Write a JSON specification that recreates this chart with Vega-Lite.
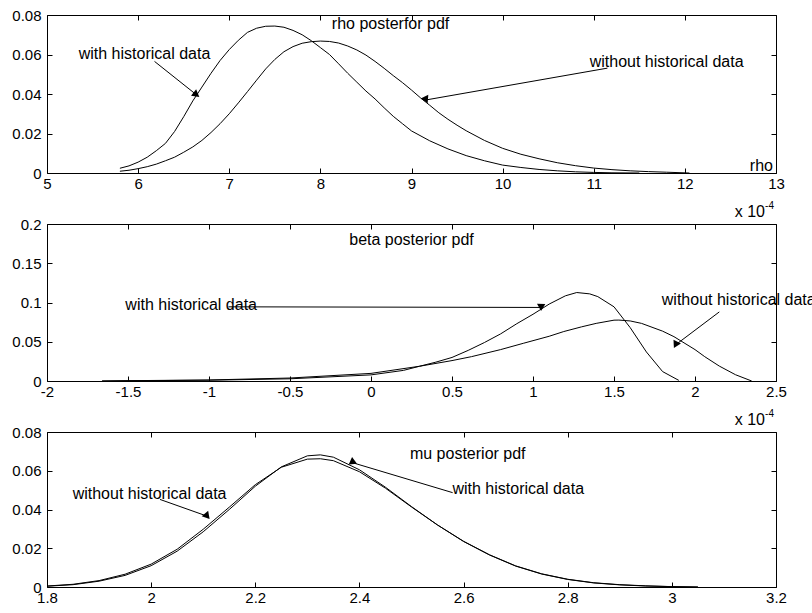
{
  "$schema": "https://vega.github.io/schema/vega-lite/v6.json",
  "padding": {"left": 11, "top": 8, "right": 0, "bottom": 0},
  "background": "white",
  "spacing": 51,
  "bounds": "flush",
  "datasets": {
    "rho": [
      {"x":5.8,"y":0.0024,"series":"with"},{"x":5.9,"y":0.0036,"series":"with"},{"x":6.0,"y":0.0055,"series":"with"},{"x":6.1,"y":0.008,"series":"with"},{"x":6.2,"y":0.0113,"series":"with"},{"x":6.3,"y":0.015,"series":"with"},{"x":6.4,"y":0.021,"series":"with"},{"x":6.5,"y":0.0285,"series":"with"},{"x":6.6,"y":0.0365,"series":"with"},{"x":6.7,"y":0.0435,"series":"with"},{"x":6.8,"y":0.0505,"series":"with"},{"x":6.9,"y":0.057,"series":"with"},{"x":7.0,"y":0.0625,"series":"with"},{"x":7.1,"y":0.0672,"series":"with"},{"x":7.2,"y":0.0712,"series":"with"},{"x":7.3,"y":0.0733,"series":"with"},{"x":7.4,"y":0.0743,"series":"with"},{"x":7.5,"y":0.0744,"series":"with"},{"x":7.6,"y":0.0738,"series":"with"},{"x":7.7,"y":0.0722,"series":"with"},{"x":7.8,"y":0.07,"series":"with"},{"x":7.9,"y":0.067,"series":"with"},{"x":8.0,"y":0.0635,"series":"with"},{"x":8.1,"y":0.06,"series":"with"},{"x":8.2,"y":0.0553,"series":"with"},{"x":8.3,"y":0.0505,"series":"with"},{"x":8.4,"y":0.046,"series":"with"},{"x":8.5,"y":0.0415,"series":"with"},{"x":8.6,"y":0.0375,"series":"with"},{"x":8.7,"y":0.033,"series":"with"},{"x":8.8,"y":0.0287,"series":"with"},{"x":8.9,"y":0.025,"series":"with"},{"x":9.0,"y":0.0213,"series":"with"},{"x":9.2,"y":0.0163,"series":"with"},{"x":9.4,"y":0.0122,"series":"with"},{"x":9.6,"y":0.0088,"series":"with"},{"x":9.8,"y":0.0062,"series":"with"},{"x":10.0,"y":0.004,"series":"with"},{"x":10.2,"y":0.0028,"series":"with"},{"x":10.4,"y":0.0018,"series":"with"},{"x":10.6,"y":0.0011,"series":"with"},{"x":10.8,"y":0.0006,"series":"with"},{"x":11.0,"y":0.0003,"series":"with"},{"x":11.2,"y":0.0001,"series":"with"},{"x":11.5,"y":0.0,"series":"with"},
      {"x":5.8,"y":0.0009,"series":"without"},{"x":5.9,"y":0.0014,"series":"without"},{"x":6.0,"y":0.0022,"series":"without"},{"x":6.1,"y":0.0032,"series":"without"},{"x":6.2,"y":0.0045,"series":"without"},{"x":6.3,"y":0.0062,"series":"without"},{"x":6.4,"y":0.008,"series":"without"},{"x":6.5,"y":0.0105,"series":"without"},{"x":6.6,"y":0.0132,"series":"without"},{"x":6.7,"y":0.0165,"series":"without"},{"x":6.8,"y":0.0205,"series":"without"},{"x":6.9,"y":0.025,"series":"without"},{"x":7.0,"y":0.03,"series":"without"},{"x":7.1,"y":0.0355,"series":"without"},{"x":7.2,"y":0.0412,"series":"without"},{"x":7.3,"y":0.047,"series":"without"},{"x":7.4,"y":0.0527,"series":"without"},{"x":7.5,"y":0.0575,"series":"without"},{"x":7.6,"y":0.0614,"series":"without"},{"x":7.7,"y":0.064,"series":"without"},{"x":7.8,"y":0.0657,"series":"without"},{"x":7.9,"y":0.0665,"series":"without"},{"x":8.0,"y":0.0668,"series":"without"},{"x":8.1,"y":0.0666,"series":"without"},{"x":8.2,"y":0.0658,"series":"without"},{"x":8.3,"y":0.0643,"series":"without"},{"x":8.4,"y":0.0623,"series":"without"},{"x":8.5,"y":0.0597,"series":"without"},{"x":8.6,"y":0.0565,"series":"without"},{"x":8.7,"y":0.053,"series":"without"},{"x":8.8,"y":0.0493,"series":"without"},{"x":8.9,"y":0.0458,"series":"without"},{"x":9.0,"y":0.042,"series":"without"},{"x":9.1,"y":0.038,"series":"without"},{"x":9.2,"y":0.0343,"series":"without"},{"x":9.3,"y":0.0305,"series":"without"},{"x":9.4,"y":0.0272,"series":"without"},{"x":9.5,"y":0.0242,"series":"without"},{"x":9.6,"y":0.0214,"series":"without"},{"x":9.8,"y":0.0165,"series":"without"},{"x":10.0,"y":0.0125,"series":"without"},{"x":10.2,"y":0.0095,"series":"without"},{"x":10.4,"y":0.0072,"series":"without"},{"x":10.6,"y":0.0052,"series":"without"},{"x":10.8,"y":0.0037,"series":"without"},{"x":11.0,"y":0.0025,"series":"without"},{"x":11.2,"y":0.0017,"series":"without"},{"x":11.4,"y":0.0011,"series":"without"},{"x":11.6,"y":0.0007,"series":"without"},{"x":11.8,"y":0.0004,"series":"without"},{"x":12.05,"y":0.0,"series":"without"}
    ],
    "beta": [
      {"x":-1.66,"y":0.0,"series":"with"},{"x":-1.5,"y":0.0003,"series":"with"},{"x":-1.0,"y":0.001,"series":"with"},{"x":-0.5,"y":0.0028,"series":"with"},{"x":0.0,"y":0.0078,"series":"with"},{"x":0.2,"y":0.0135,"series":"with"},{"x":0.3,"y":0.0188,"series":"with"},{"x":0.4,"y":0.024,"series":"with"},{"x":0.5,"y":0.03,"series":"with"},{"x":0.6,"y":0.039,"series":"with"},{"x":0.7,"y":0.049,"series":"with"},{"x":0.8,"y":0.06,"series":"with"},{"x":0.9,"y":0.073,"series":"with"},{"x":1.0,"y":0.085,"series":"with"},{"x":1.1,"y":0.098,"series":"with"},{"x":1.2,"y":0.1085,"series":"with"},{"x":1.27,"y":0.1127,"series":"with"},{"x":1.35,"y":0.111,"series":"with"},{"x":1.4,"y":0.1075,"series":"with"},{"x":1.5,"y":0.0945,"series":"with"},{"x":1.6,"y":0.068,"series":"with"},{"x":1.7,"y":0.037,"series":"with"},{"x":1.8,"y":0.012,"series":"with"},{"x":1.9,"y":0.0008,"series":"with"},
      {"x":-1.66,"y":0.0,"series":"without"},{"x":-1.5,"y":0.0004,"series":"without"},{"x":-1.0,"y":0.0013,"series":"without"},{"x":-0.5,"y":0.0038,"series":"without"},{"x":0.0,"y":0.0097,"series":"without"},{"x":0.3,"y":0.0188,"series":"without"},{"x":0.5,"y":0.026,"series":"without"},{"x":0.62,"y":0.031,"series":"without"},{"x":0.8,"y":0.04,"series":"without"},{"x":0.94,"y":0.048,"series":"without"},{"x":1.1,"y":0.057,"series":"without"},{"x":1.19,"y":0.063,"series":"without"},{"x":1.3,"y":0.069,"series":"without"},{"x":1.39,"y":0.0734,"series":"without"},{"x":1.5,"y":0.0775,"series":"without"},{"x":1.53,"y":0.0776,"series":"without"},{"x":1.6,"y":0.0765,"series":"without"},{"x":1.67,"y":0.0734,"series":"without"},{"x":1.8,"y":0.0635,"series":"without"},{"x":1.87,"y":0.0565,"series":"without"},{"x":2.0,"y":0.04,"series":"without"},{"x":2.06,"y":0.031,"series":"without"},{"x":2.15,"y":0.019,"series":"without"},{"x":2.25,"y":0.008,"series":"without"},{"x":2.35,"y":0.0,"series":"without"}
    ],
    "mu": [
      {"x":1.8,"y":0.0004,"series":"with"},{"x":1.85,"y":0.0012,"series":"with"},{"x":1.9,"y":0.003,"series":"with"},{"x":1.95,"y":0.006,"series":"with"},{"x":2.0,"y":0.011,"series":"with"},{"x":2.05,"y":0.0185,"series":"with"},{"x":2.1,"y":0.0285,"series":"with"},{"x":2.15,"y":0.04,"series":"with"},{"x":2.2,"y":0.052,"series":"with"},{"x":2.25,"y":0.062,"series":"with"},{"x":2.3,"y":0.0677,"series":"with"},{"x":2.325,"y":0.0682,"series":"with"},{"x":2.35,"y":0.067,"series":"with"},{"x":2.4,"y":0.0605,"series":"with"},{"x":2.45,"y":0.0515,"series":"with"},{"x":2.5,"y":0.0415,"series":"with"},{"x":2.55,"y":0.032,"series":"with"},{"x":2.6,"y":0.0235,"series":"with"},{"x":2.65,"y":0.0165,"series":"with"},{"x":2.7,"y":0.0108,"series":"with"},{"x":2.75,"y":0.0067,"series":"with"},{"x":2.8,"y":0.0039,"series":"with"},{"x":2.85,"y":0.0021,"series":"with"},{"x":2.9,"y":0.0011,"series":"with"},{"x":2.95,"y":0.0005,"series":"with"},{"x":3.0,"y":0.0002,"series":"with"},{"x":3.05,"y":0.0,"series":"with"},
      {"x":1.8,"y":0.0005,"series":"without"},{"x":1.85,"y":0.0014,"series":"without"},{"x":1.9,"y":0.0033,"series":"without"},{"x":1.95,"y":0.0066,"series":"without"},{"x":2.0,"y":0.0118,"series":"without"},{"x":2.05,"y":0.0195,"series":"without"},{"x":2.1,"y":0.0298,"series":"without"},{"x":2.15,"y":0.0412,"series":"without"},{"x":2.2,"y":0.0528,"series":"without"},{"x":2.25,"y":0.0618,"series":"without"},{"x":2.3,"y":0.066,"series":"without"},{"x":2.325,"y":0.0662,"series":"without"},{"x":2.35,"y":0.0652,"series":"without"},{"x":2.4,"y":0.0595,"series":"without"},{"x":2.45,"y":0.051,"series":"without"},{"x":2.5,"y":0.0413,"series":"without"},{"x":2.55,"y":0.032,"series":"without"},{"x":2.6,"y":0.0236,"series":"without"},{"x":2.65,"y":0.0166,"series":"without"},{"x":2.7,"y":0.0109,"series":"without"},{"x":2.75,"y":0.0068,"series":"without"},{"x":2.8,"y":0.004,"series":"without"},{"x":2.85,"y":0.0022,"series":"without"},{"x":2.9,"y":0.0012,"series":"without"},{"x":2.95,"y":0.0006,"series":"without"},{"x":3.0,"y":0.0002,"series":"without"},{"x":3.05,"y":0.0,"series":"without"}
    ],
    "notes": [
      {"panel":"rho","x":8.77,"y":0.0752,"text":"rho posterfor pdf"},
      {"panel":"rho","x":6.07,"y":0.0605,"text":"with historical data"},
      {"panel":"rho","x":11.8,"y":0.056,"text":"without historical data"},
      {"panel":"rho","x":12.84,"y":0.0036,"text":"rho"},
      {"panel":"beta","x":0.25,"y":0.179,"text":"beta posterior pdf"},
      {"panel":"beta","x":-1.11,"y":0.0966,"text":"with historical data"},
      {"panel":"beta","x":2.27,"y":0.103,"text":"without historical data"},
      {"panel":"mu","x":2.608,"y":0.0685,"text":"mu posterior pdf"},
      {"panel":"mu","x":2.705,"y":0.0504,"text":"with historical data"},
      {"panel":"mu","x":1.997,"y":0.0482,"text":"without historical data"}
    ],
    "arrows": [
      {"panel":"rho","id":"rho_with","x":6.18,"y":0.0565,"x2":6.64,"y2":0.0396},
      {"panel":"rho","id":"rho_without","x":11.15,"y":0.0531,"x2":9.16,"y2":0.037},
      {"panel":"beta","id":"beta_with","x":-0.88,"y":0.0945,"x2":1.05,"y2":0.0937},
      {"panel":"beta","id":"beta_without","x":2.15,"y":0.088,"x2":1.88,"y2":0.046},
      {"panel":"mu","id":"mu_with","x":2.579,"y":0.0487,"x2":2.385,"y2":0.0643},
      {"panel":"mu","id":"mu_without","x":2.017,"y":0.0452,"x2":2.104,"y2":0.0369}
    ],
    "exponent": [
      {"panel":"beta","x":2.5,"y":0.2,"base":"x 10","exp":"-4"},
      {"panel":"mu","x":3.2,"y":0.08,"base":"x 10","exp":"-4"}
    ]
  },
  "vconcat": [
    {
      "width": 729, "height": 158,
      "layer": [
        {"data":{"name":"rho"},"mark":{"type":"line","color":"black","strokeWidth":1},
         "encoding":{
           "x":{"field":"x","type":"quantitative","scale":{"domain":[5,13],"nice":false,"zero":false},"axis":{"orient":"bottom","values":[5,6,7,8,9,10,11,12,13],"title":null,"labelExpr":"''+datum.value"}},
           "y":{"field":"y","type":"quantitative","scale":{"domain":[0,0.08],"nice":false,"zero":false},"axis":{"orient":"left","values":[0,0.02,0.04,0.06,0.08],"title":null,"labelExpr":"''+datum.value"}},
           "detail":{"field":"series"}}},
        {"data":{"name":"arrows"},"transform":[{"filter":"datum.panel==='rho'"}],"mark":{"type":"rule","color":"black","strokeWidth":1},
         "encoding":{
           "x":{"field":"x","type":"quantitative","scale":{"domain":[5,13],"nice":false,"zero":false},"axis":{"orient":"top","values":[5,6,7,8,9,10,11,12,13],"title":null,"labels":false}},
           "y":{"field":"y","type":"quantitative","scale":{"domain":[0,0.08],"nice":false,"zero":false},"axis":{"orient":"right","values":[0,0.02,0.04,0.06,0.08],"title":null,"labels":false}},
           "x2":{"field":"x2"},"y2":{"field":"y2"}}},
        {"data":{"name":"arrows"},"transform":[{"filter":"datum.panel==='rho'"}],"mark":{"type":"point","shape":"triangle-right","filled":true,"color":"black","opacity":1,"size":70},
         "encoding":{
           "x":{"field":"x2","type":"quantitative","axis":null},
           "y":{"field":"y2","type":"quantitative","axis":null},
           "angle":{"field":"id","type":"nominal","scale":{"domain":["rho_with","rho_without"],"range":[38,170]},"legend":null}}},
        {"data":{"name":"notes"},"transform":[{"filter":"datum.panel==='rho'"}],"mark":{"type":"text","fontSize":16,"color":"black"},
         "encoding":{
           "x":{"field":"x","type":"quantitative","axis":null},
           "y":{"field":"y","type":"quantitative","axis":null},
           "text":{"field":"text"}}}
      ],
      "resolve":{"axis":{"x":"independent","y":"independent"}}
    },
    {
      "width": 729, "height": 157,
      "layer": [
        {"data":{"name":"beta"},"mark":{"type":"line","color":"black","strokeWidth":1},
         "encoding":{
           "x":{"field":"x","type":"quantitative","scale":{"domain":[-2,2.5],"nice":false,"zero":false},"axis":{"orient":"bottom","values":[-2,-1.5,-1,-0.5,0,0.5,1,1.5,2,2.5],"title":null,"labelExpr":"''+datum.value"}},
           "y":{"field":"y","type":"quantitative","scale":{"domain":[0,0.2],"nice":false,"zero":false},"axis":{"orient":"left","values":[0,0.05,0.1,0.15,0.2],"title":null,"labelExpr":"''+datum.value"}},
           "detail":{"field":"series"}}},
        {"data":{"name":"arrows"},"transform":[{"filter":"datum.panel==='beta'"}],"mark":{"type":"rule","color":"black","strokeWidth":1},
         "encoding":{
           "x":{"field":"x","type":"quantitative","scale":{"domain":[-2,2.5],"nice":false,"zero":false},"axis":{"orient":"top","values":[-2,-1.5,-1,-0.5,0,0.5,1,1.5,2,2.5],"title":null,"labels":false}},
           "y":{"field":"y","type":"quantitative","scale":{"domain":[0,0.2],"nice":false,"zero":false},"axis":{"orient":"right","values":[0,0.05,0.1,0.15,0.2],"title":null,"labels":false}},
           "x2":{"field":"x2"},"y2":{"field":"y2"}}},
        {"data":{"name":"arrows"},"transform":[{"filter":"datum.panel==='beta'"}],"mark":{"type":"point","shape":"triangle-right","filled":true,"color":"black","opacity":1,"size":70},
         "encoding":{
           "x":{"field":"x2","type":"quantitative","axis":null},
           "y":{"field":"y2","type":"quantitative","axis":null},
           "angle":{"field":"id","type":"nominal","scale":{"domain":["beta_with","beta_without"],"range":[0,143]},"legend":null}}},
        {"data":{"name":"notes"},"transform":[{"filter":"datum.panel==='beta'"}],"mark":{"type":"text","fontSize":16,"color":"black"},
         "encoding":{
           "x":{"field":"x","type":"quantitative","axis":null},
           "y":{"field":"y","type":"quantitative","axis":null},
           "text":{"field":"text"}}},
        {"data":{"name":"exponent"},"transform":[{"filter":"datum.panel==='beta'"}],"mark":{"type":"text","fontSize":16,"color":"black","align":"right","baseline":"alphabetic","dx":-11,"dy":-7},
         "encoding":{
           "x":{"field":"x","type":"quantitative","axis":null},
           "y":{"field":"y","type":"quantitative","axis":null},
           "text":{"field":"base"}}},
        {"data":{"name":"exponent"},"transform":[{"filter":"datum.panel==='beta'"}],"mark":{"type":"text","fontSize":10,"color":"black","align":"right","baseline":"alphabetic","dx":-2,"dy":-15},
         "encoding":{
           "x":{"field":"x","type":"quantitative","axis":null},
           "y":{"field":"y","type":"quantitative","axis":null},
           "text":{"field":"exp"}}}
      ],
      "resolve":{"axis":{"x":"independent","y":"independent"}}
    },
    {
      "width": 729, "height": 155,
      "layer": [
        {"data":{"name":"mu"},"mark":{"type":"line","color":"black","strokeWidth":1},
         "encoding":{
           "x":{"field":"x","type":"quantitative","scale":{"domain":[1.8,3.2],"nice":false,"zero":false},"axis":{"orient":"bottom","values":[1.8,2,2.2,2.4,2.6,2.8,3,3.2],"title":null,"labelExpr":"''+datum.value"}},
           "y":{"field":"y","type":"quantitative","scale":{"domain":[0,0.08],"nice":false,"zero":false},"axis":{"orient":"left","values":[0,0.02,0.04,0.06,0.08],"title":null,"labelExpr":"''+datum.value"}},
           "detail":{"field":"series"}}},
        {"data":{"name":"arrows"},"transform":[{"filter":"datum.panel==='mu'"}],"mark":{"type":"rule","color":"black","strokeWidth":1},
         "encoding":{
           "x":{"field":"x","type":"quantitative","scale":{"domain":[1.8,3.2],"nice":false,"zero":false},"axis":{"orient":"top","values":[1.8,2,2.2,2.4,2.6,2.8,3,3.2],"title":null,"labels":false}},
           "y":{"field":"y","type":"quantitative","scale":{"domain":[0,0.08],"nice":false,"zero":false},"axis":{"orient":"right","values":[0,0.02,0.04,0.06,0.08],"title":null,"labels":false}},
           "x2":{"field":"x2"},"y2":{"field":"y2"}}},
        {"data":{"name":"arrows"},"transform":[{"filter":"datum.panel==='mu'"}],"mark":{"type":"point","shape":"triangle-right","filled":true,"color":"black","opacity":1,"size":70},
         "encoding":{
           "x":{"field":"x2","type":"quantitative","axis":null},
           "y":{"field":"y2","type":"quantitative","axis":null},
           "angle":{"field":"id","type":"nominal","scale":{"domain":["mu_with","mu_without"],"range":[196,20]},"legend":null}}},
        {"data":{"name":"notes"},"transform":[{"filter":"datum.panel==='mu'"}],"mark":{"type":"text","fontSize":16,"color":"black"},
         "encoding":{
           "x":{"field":"x","type":"quantitative","axis":null},
           "y":{"field":"y","type":"quantitative","axis":null},
           "text":{"field":"text"}}},
        {"data":{"name":"exponent"},"transform":[{"filter":"datum.panel==='mu'"}],"mark":{"type":"text","fontSize":16,"color":"black","align":"right","baseline":"alphabetic","dx":-11,"dy":-7},
         "encoding":{
           "x":{"field":"x","type":"quantitative","axis":null},
           "y":{"field":"y","type":"quantitative","axis":null},
           "text":{"field":"base"}}},
        {"data":{"name":"exponent"},"transform":[{"filter":"datum.panel==='mu'"}],"mark":{"type":"text","fontSize":10,"color":"black","align":"right","baseline":"alphabetic","dx":-2,"dy":-15},
         "encoding":{
           "x":{"field":"x","type":"quantitative","axis":null},
           "y":{"field":"y","type":"quantitative","axis":null},
           "text":{"field":"exp"}}}
      ],
      "resolve":{"axis":{"x":"independent","y":"independent"}}
    }
  ],
  "config": {
    "view": {"stroke": null},
    "font": "Liberation Sans",
    "text": {"font": "Liberation Sans"},
    "axis": {
      "domainColor": "black", "domainWidth": 1,
      "tickColor": "black", "tickWidth": 1, "tickSize": -5,
      "labelColor": "black", "labelFont": "Liberation Sans", "labelFontSize": 15,
      "grid": false, "labelFlush": false, "labelOverlap": false, "labelBound": false
    },
    "axisBottom": {"labelPadding": 8},
    "axisLeft": {"labelPadding": 11}
  }
}
